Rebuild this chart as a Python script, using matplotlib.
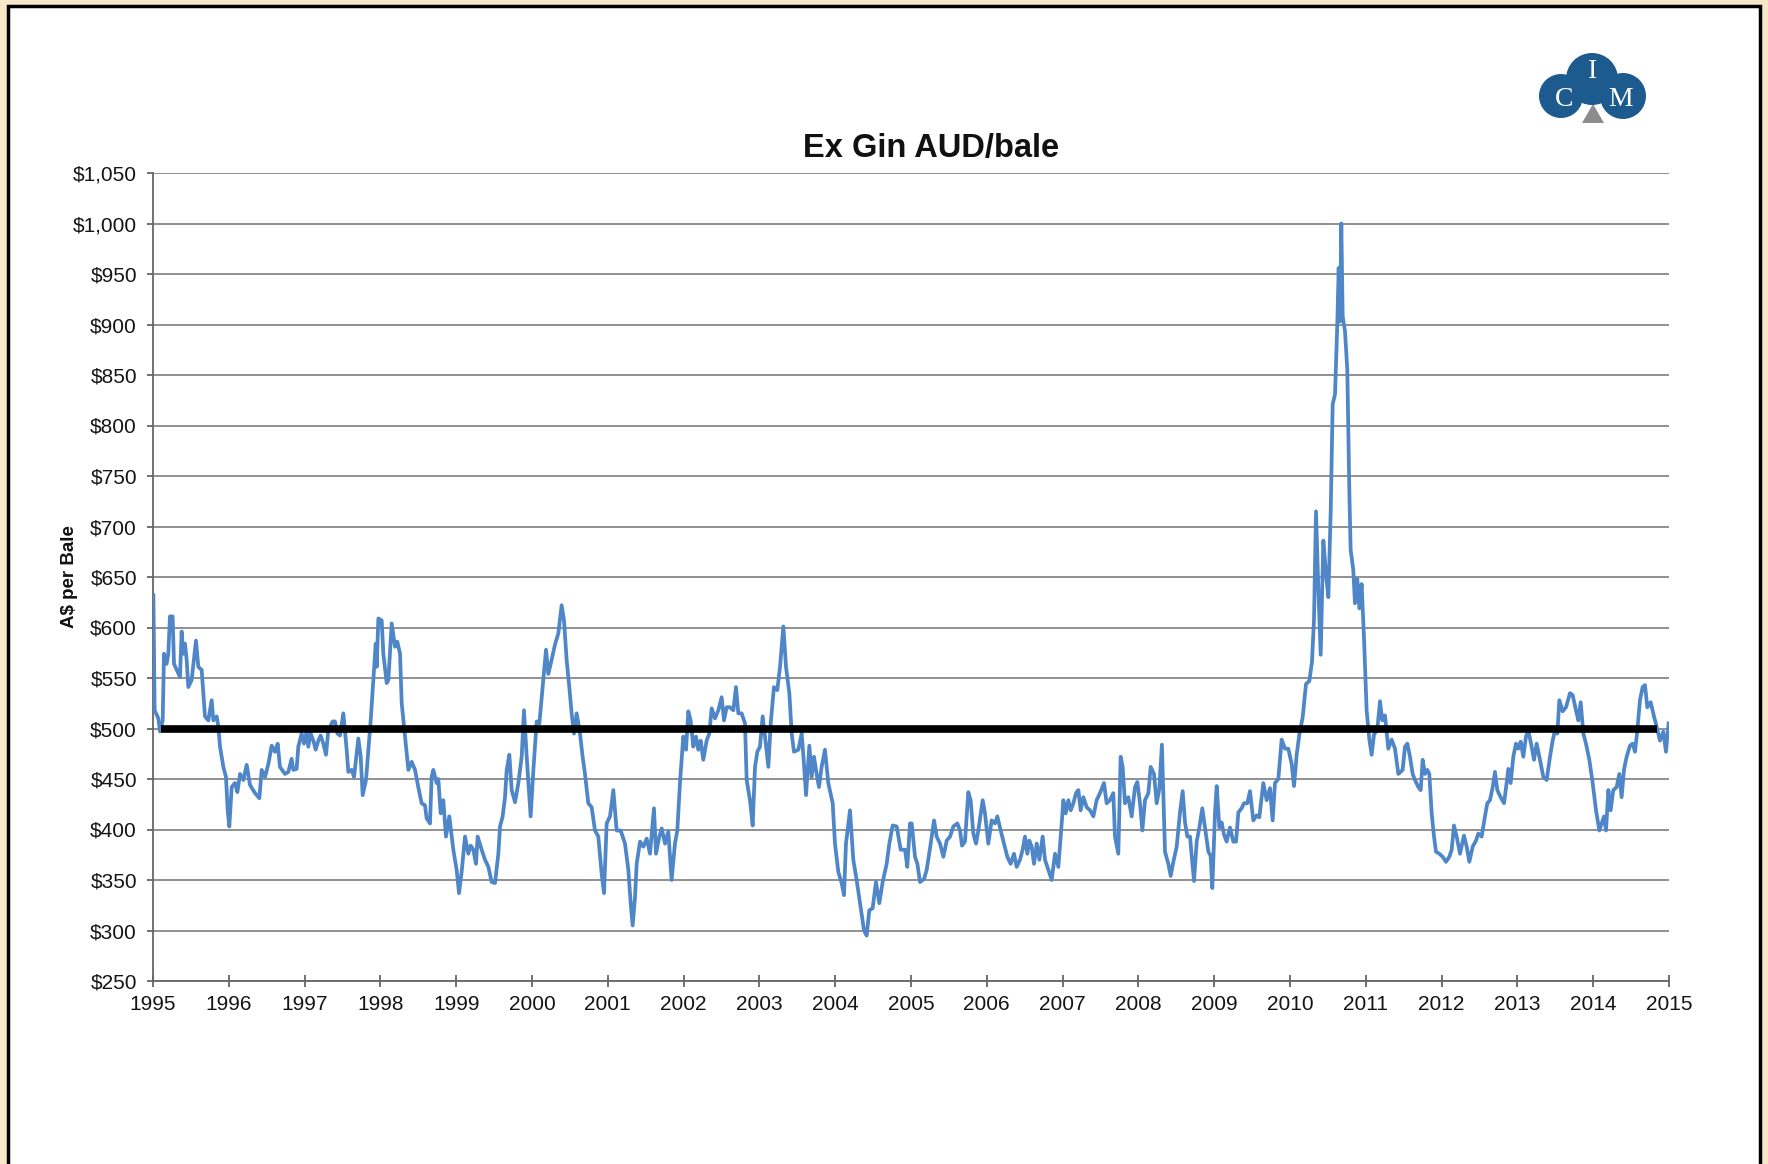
import matplotlib
matplotlib.use("Agg")
import matplotlib.pyplot as plt
from matplotlib.patches import Rectangle, Circle, Polygon

plt.rcParams['font.family'] = ['Liberation Sans', 'DejaVu Sans']

# weekly-ish ex gin cotton price, A$ per bale (decimal year, price)
dates = [
    1995.005, 1995.022, 1995.070, 1995.092, 1995.128, 1995.145, 1995.180, 1995.202, 1995.224, 1995.259,
    1995.277, 1995.356, 1995.378, 1995.400, 1995.422, 1995.444, 1995.466, 1995.510, 1995.567, 1995.598,
    1995.642, 1995.686, 1995.730, 1995.774, 1995.796, 1995.840, 1995.862, 1995.884, 1995.928, 1995.963,
    1995.985, 1996.007, 1996.038, 1996.082, 1996.113, 1996.148, 1996.192, 1996.236, 1996.280, 1996.346,
    1996.403, 1996.434, 1996.478, 1996.522, 1996.566, 1996.609, 1996.645, 1996.675, 1996.741, 1996.785,
    1996.829, 1996.851, 1996.895, 1996.917, 1996.961, 1996.992, 1997.027, 1997.049, 1997.080, 1997.115,
    1997.146, 1997.181, 1997.212, 1997.247, 1997.282, 1997.313, 1997.370, 1997.401, 1997.432, 1997.467,
    1997.511, 1997.555, 1997.577, 1997.621, 1997.652, 1997.709, 1997.740, 1997.766, 1997.810, 1997.841,
    1997.872, 1997.907, 1997.938, 1997.951, 1997.973, 1998.017, 1998.039, 1998.083, 1998.105, 1998.149,
    1998.193, 1998.223, 1998.259, 1998.281, 1998.325, 1998.369, 1998.413, 1998.457, 1998.500, 1998.544,
    1998.588, 1998.610, 1998.654, 1998.676, 1998.698, 1998.742, 1998.764, 1998.795, 1998.830, 1998.865,
    1998.909, 1998.962, 1999.006, 1999.037, 1999.072, 1999.116, 1999.160, 1999.191, 1999.226, 1999.261,
    1999.283, 1999.336, 1999.380, 1999.424, 1999.468, 1999.512, 1999.556, 1999.578, 1999.613, 1999.644,
    1999.666, 1999.701, 1999.732, 1999.776, 1999.820, 1999.864, 1999.894, 1999.930, 1999.982, 2000.018,
    2000.062, 2000.097, 2000.128, 2000.159, 2000.185, 2000.215, 2000.259, 2000.303, 2000.347, 2000.391,
    2000.422, 2000.457, 2000.492, 2000.523, 2000.554, 2000.589, 2000.633, 2000.668, 2000.699, 2000.743,
    2000.787, 2000.831, 2000.875, 2000.919, 2000.950, 2000.985, 2001.029, 2001.073, 2001.117, 2001.170,
    2001.227, 2001.271, 2001.302, 2001.328, 2001.359, 2001.381, 2001.425, 2001.469, 2001.513, 2001.557,
    2001.609, 2001.636, 2001.680, 2001.711, 2001.755, 2001.798, 2001.842, 2001.886, 2001.917, 2001.952,
    2001.996, 2002.032, 2002.062, 2002.093, 2002.128, 2002.163, 2002.194, 2002.225, 2002.260, 2002.304,
    2002.339, 2002.370, 2002.414, 2002.458, 2002.502, 2002.533, 2002.568, 2002.612, 2002.656, 2002.691,
    2002.722, 2002.766, 2002.810, 2002.832, 2002.876, 2002.911, 2002.942, 2002.973, 2003.008, 2003.043,
    2003.074, 2003.118, 2003.149, 2003.192, 2003.236, 2003.272, 2003.316, 2003.351, 2003.395, 2003.426,
    2003.456, 2003.514, 2003.558, 2003.588, 2003.615, 2003.659, 2003.689, 2003.720, 2003.755, 2003.786,
    2003.821, 2003.865, 2003.909, 2003.967, 2003.997, 2004.041, 2004.085, 2004.116, 2004.142, 2004.195,
    2004.239, 2004.283, 2004.336, 2004.380, 2004.415, 2004.450, 2004.494, 2004.538, 2004.582, 2004.626,
    2004.679, 2004.714, 2004.758, 2004.811, 2004.864, 2004.921, 2004.951, 2004.987, 2005.009, 2005.053,
    2005.084, 2005.119, 2005.172, 2005.207, 2005.260, 2005.304, 2005.339, 2005.383, 2005.427, 2005.471,
    2005.515, 2005.559, 2005.611, 2005.647, 2005.673, 2005.712, 2005.756, 2005.787, 2005.822, 2005.858,
    2005.888, 2005.946, 2005.976, 2006.020, 2006.064, 2006.108, 2006.139, 2006.183, 2006.227, 2006.271,
    2006.315, 2006.359, 2006.394, 2006.438, 2006.473, 2006.504, 2006.535, 2006.561, 2006.592, 2006.623,
    2006.658, 2006.693, 2006.737, 2006.768, 2006.812, 2006.856, 2006.900, 2006.944, 2006.988, 2007.010,
    2007.041, 2007.076, 2007.107, 2007.142, 2007.177, 2007.208, 2007.238, 2007.274, 2007.318, 2007.362,
    2007.406, 2007.449, 2007.493, 2007.546, 2007.581, 2007.625, 2007.669, 2007.691, 2007.735, 2007.766,
    2007.792, 2007.823, 2007.867, 2007.911, 2007.955, 2007.986, 2008.021, 2008.052, 2008.087, 2008.131,
    2008.162, 2008.206, 2008.241, 2008.276, 2008.310, 2008.351, 2008.395, 2008.426, 2008.461, 2008.505,
    2008.549, 2008.584, 2008.615, 2008.646, 2008.681, 2008.703, 2008.734, 2008.769, 2008.804, 2008.843,
    2008.879, 2008.923, 2008.953, 2008.975, 2009.011, 2009.033, 2009.068, 2009.098, 2009.129, 2009.164,
    2009.208, 2009.252, 2009.288, 2009.319, 2009.362, 2009.393, 2009.437, 2009.472, 2009.516, 2009.560,
    2009.595, 2009.648, 2009.692, 2009.736, 2009.771, 2009.802, 2009.846, 2009.890, 2009.934, 2009.978,
    2010.022, 2010.053, 2010.088, 2010.123, 2010.167, 2010.211, 2010.255, 2010.290, 2010.317, 2010.343,
    2010.374, 2010.405, 2010.440, 2010.475, 2010.506, 2010.537, 2010.563, 2010.594, 2010.625, 2010.642,
    2010.660, 2010.677, 2010.695, 2010.726, 2010.756, 2010.783, 2010.800, 2010.835, 2010.857, 2010.888,
    2010.915, 2010.945, 2010.976, 2011.011, 2011.047, 2011.077, 2011.108, 2011.152, 2011.187, 2011.218,
    2011.253, 2011.297, 2011.341, 2011.385, 2011.429, 2011.486, 2011.517, 2011.548, 2011.583, 2011.618,
    2011.649, 2011.693, 2011.724, 2011.750, 2011.781, 2011.812, 2011.838, 2011.869, 2011.900, 2011.926,
    2011.970, 2012.014, 2012.058, 2012.102, 2012.133, 2012.163, 2012.199, 2012.243, 2012.295, 2012.331,
    2012.366, 2012.410, 2012.454, 2012.484, 2012.528, 2012.572, 2012.603, 2012.638, 2012.674, 2012.704,
    2012.735, 2012.779, 2012.823, 2012.858, 2012.880, 2012.911, 2012.946, 2012.981, 2013.012, 2013.043,
    2013.078, 2013.113, 2013.144, 2013.188, 2013.219, 2013.254, 2013.298, 2013.342, 2013.386, 2013.430,
    2013.465, 2013.496, 2013.527, 2013.553, 2013.597, 2013.641, 2013.694, 2013.729, 2013.773, 2013.804,
    2013.835, 2013.870, 2013.905, 2013.949, 2013.993, 2014.037, 2014.081, 2014.112, 2014.142, 2014.169,
    2014.200, 2014.230, 2014.265, 2014.309, 2014.345, 2014.375, 2014.406, 2014.441, 2014.485, 2014.520,
    2014.551, 2014.582, 2014.617, 2014.652, 2014.683, 2014.714, 2014.758, 2014.802, 2014.837, 2014.881,
    2014.925, 2014.960, 2014.995,
]
prices = [
    632, 518, 510, 497, 508, 574, 564, 574, 611, 611,
    564, 551, 596, 574, 584, 568, 541, 548, 587, 561,
    558, 512, 508, 528, 508, 512, 502, 482, 462, 452,
    419, 403, 442, 446, 437, 455, 449, 464, 444, 436,
    431, 459, 452, 465, 483, 477, 485, 462, 455, 457,
    470, 459, 460, 482, 495, 485, 497, 482, 495, 488,
    479, 488, 493, 485, 474, 498, 507, 507, 495, 493,
    515, 479, 457, 459, 452, 490, 472, 434, 449, 479,
    508, 548, 584, 561, 609, 607, 574, 545, 548, 604,
    581, 586, 574, 525, 492, 459, 467, 459, 442, 426,
    424, 411, 406, 452, 459, 446, 450, 416, 429, 393,
    413, 380, 360, 337, 358, 393, 376, 384, 380, 366,
    393, 380, 370, 363, 348, 347, 376, 403, 413, 432,
    459, 474, 439, 427, 446, 472, 518, 472, 413, 459,
    507, 505, 531, 558, 578, 554, 568, 583, 594, 622,
    607, 568, 541, 515, 495, 515, 495, 472, 455, 426,
    422, 399, 393, 356, 337, 406, 413, 439, 399, 399,
    386, 360, 327, 305, 333, 366, 388, 383, 391, 376,
    421, 376, 393, 401, 386, 398, 350, 386, 399, 446,
    492, 479, 517, 508, 482, 492, 479, 488, 469, 488,
    495, 520, 510, 518, 531, 508, 521, 521, 518, 541,
    515, 515, 505, 449, 429, 404, 462, 477, 482, 512,
    492, 462, 505, 541, 538, 561, 601, 561, 535, 495,
    477, 479, 495, 465, 434, 483, 452, 472, 455, 442,
    462, 479, 446, 426, 386, 358, 347, 335, 386, 419,
    370, 350, 323, 300, 295, 320, 322, 348, 327, 348,
    366, 386, 404, 403, 380, 380, 363, 406, 406, 373,
    366, 348, 351, 360, 386, 409, 393, 386, 373, 389,
    393, 403, 406, 399, 384, 388, 437, 429, 396, 386,
    399, 429, 416, 386, 409, 406, 413, 399, 386, 373,
    366, 376, 363, 370, 380, 393, 376, 389, 383, 366,
    386, 370, 393, 370, 360, 350, 376, 363, 406, 429,
    416, 429, 419, 426, 436, 439, 419, 432, 422, 419,
    413, 429, 436, 446, 426, 429, 436, 393, 376, 472,
    462, 426, 432, 413, 442, 447, 426, 399, 429, 436,
    462, 455, 426, 440, 484, 378, 366, 354, 368, 383,
    417, 438, 407, 393, 393, 374, 349, 388, 402, 421,
    402, 378, 374, 342, 417, 443, 402, 407, 395, 388,
    402, 388, 388, 417, 421, 426, 426, 438, 409, 414,
    412, 446, 429, 441, 409, 446, 450, 489, 480, 480,
    465, 443, 474, 494, 511, 544, 547, 566, 609, 715,
    638, 573, 686, 653, 630, 715, 821, 831, 903, 956,
    903, 1000, 908, 893, 855, 734, 677, 657, 624, 648,
    619, 643, 590, 518, 489, 474, 494, 499, 527, 508,
    513, 480, 489, 480, 455, 459, 482, 485, 472, 455,
    449, 442, 439, 469, 455, 459, 455, 416, 393, 378,
    376, 373, 368, 373, 380, 404, 393, 376, 394, 383,
    368, 383, 389, 396, 393, 413, 426, 429, 442, 457,
    439, 432, 426, 446, 460, 446, 472, 485, 480, 487,
    472, 492, 498, 482, 469, 485, 469, 452, 449, 472,
    488, 498, 495, 528, 517, 521, 535, 533, 518, 508,
    526, 495, 485, 469, 446, 419, 399, 406, 413, 399,
    439, 419, 439, 442, 455, 432, 459, 472, 483, 485,
    477, 498, 528, 541, 543, 521, 526, 512, 502, 488,
    497, 477, 505,
]

years = list(range(1995, 2016))
y_ticks = list(range(250, 1051, 50))
y_labels = ['${:,}'.format(v) for v in y_ticks]
ref_level = 500
ref_span = (1995.106, 2014.84)

W, H = 1768, 1164
fig = plt.figure(figsize=(W / 100, H / 100), dpi=100)
fig.patch.set_facecolor('#f6e7c9')

# white page with black frame, kept underneath the axes
page = Rectangle((8 / W, -0.02), (1760 - 8) / W, (H - 6) / H + 0.02,
                 transform=fig.transFigure, facecolor='white',
                 edgecolor='black', linewidth=2.5, zorder=-10)
fig.patches.append(page)

ax = fig.add_axes([153 / W, 1 - 981 / H, (1669 - 153) / W, (981 - 173) / H])
ax.set_facecolor('white')
ax.plot(dates, prices, color='#4f86c8', linewidth=2.7, zorder=3, solid_joinstyle='round')
ax.hlines(ref_level, ref_span[0], ref_span[1], color='black', linewidth=5.5, zorder=4)

ax.set_xlim(1995, 2015)
ax.set_ylim(250, 1050)
ax.set_xticks(years)
ax.set_xticklabels([str(y) for y in years])
ax.set_yticks(y_ticks)
ax.set_yticklabels(y_labels)
ax.yaxis.grid(True, color='#888888', linewidth=1.3)
ax.set_axisbelow(True)
for s in ['top', 'right']:
    ax.spines[s].set_visible(False)
for s in ['left', 'bottom']:
    ax.spines[s].set_color('#666666')
    ax.spines[s].set_linewidth(1.3)
ax.tick_params(axis='x', direction='inout', length=8, width=1.3, color='#666666',
               labelsize=15, labelcolor='#141414', pad=6)
ax.tick_params(axis='y', direction='out', length=4.5, width=1.3, color='#666666',
               labelsize=15, labelcolor='#141414', pad=7)

fig.text(931 / W, 1 - 148 / H, 'Ex Gin AUD/bale', fontsize=23.5, fontweight='bold',
         ha='center', va='center', color='#111111')
fig.text(70 / W, 1 - 577 / H, 'A$ per Bale', fontsize=13.5, fontweight='bold',
         rotation=90, ha='center', va='center', color='#111111')

# CIM logo
lax = fig.add_axes([1530 / W, 1 - 130 / H, 130 / W, 85 / H])
lax.set_xlim(1530, 1660)
lax.set_ylim(130, 45)
lax.set_aspect('equal')
lax.axis('off')
logo_blue = '#1d5a8e'
lax.add_patch(Polygon([[1582, 123], [1604, 123], [1593, 104]], closed=True,
                      facecolor='#8c8c8c', edgecolor='none', zorder=1))
for cx, cy, r in [(1561, 96, 22), (1592, 79, 26), (1623, 96, 23)]:
    lax.add_patch(Circle((cx, cy), r, facecolor=logo_blue, edgecolor='none', zorder=2))
for ch, cx, cy in [('I', 1593, 72), ('C', 1564, 99), ('M', 1621, 99)]:
    lax.text(cx, cy, ch, color='white', fontsize=20, family='Liberation Serif',
             ha='center', va='center', zorder=3)

fig.savefig('out.png', dpi=100, facecolor=fig.get_facecolor())
